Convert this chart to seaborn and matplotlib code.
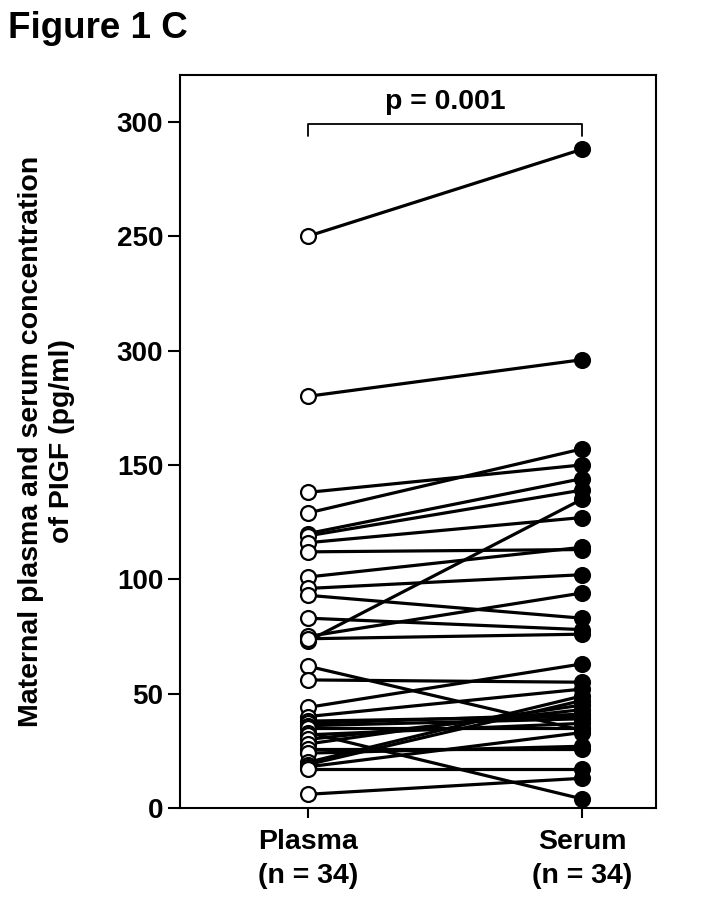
import matplotlib
matplotlib.use("Agg")
import matplotlib.pyplot as plt
import seaborn as sns
import pandas as pd
import numpy as np

# ---- data (pg/ml) ----
plasma = [250, 180, 138, 129, 120, 119, 116, 112, 101, 96, 93, 75, 73,
          83, 74, 62, 56, 44, 40, 38, 37, 36, 35, 33, 32, 30, 28, 26, 24,
          20, 19, 18, 17, 6]
serum = [288, 196, 150, 157, 144, 139, 127, 113, 114, 102, 83, 94, 135,
         78, 76, 34, 55, 63, 52, 40, 41, 39, 35, 4, 37, 43, 45, 26, 27,
         49, 47, 33, 17, 13]
groups = ["Plasma", "Serum"]
group_labels = ["Plasma\n(n = 34)", "Serum\n(n = 34)"]
ytick_values = [0, 50, 100, 150, 200, 250, 300]
ytick_labels = ["0", "50", "100", "150", "300", "250", "300"]
p_text = "p = 0.001"

n = len(plasma)
df = pd.DataFrame({
    "subject": list(range(n)) * 2,
    "group": ["Plasma"] * n + ["Serum"] * n,
    "pos": [0] * n + [1] * n,
    "value": plasma + serum,
})

sns.set_style("ticks")
plt.rcParams["font.family"] = ["Liberation Sans", "DejaVu Sans"]
plt.rcParams["font.weight"] = "bold"
for k in ["text.color", "axes.labelcolor", "xtick.color", "ytick.color",
          "axes.edgecolor"]:
    plt.rcParams[k] = "black"

fig = plt.figure(figsize=(7.18, 9.02), dpi=100)
ax = fig.add_axes([0.2507, 0.1042, 0.9136 - 0.2507, 0.9169 - 0.1042])

sns.lineplot(data=df, x="pos", y="value", units="subject", estimator=None,
             color="black", linewidth=2.3, ax=ax, legend=False, zorder=2)
sns.scatterplot(data=df[df.group == "Plasma"], x="pos", y="value", ax=ax,
                color="white", edgecolor="black", linewidth=1.6, s=115,
                zorder=3, legend=False)
sns.scatterplot(data=df[df.group == "Serum"], x="pos", y="value", ax=ax,
                color="black", edgecolor="black", linewidth=1.6, s=115,
                zorder=3, legend=False)

ax.set_xlim(-0.467, 1.270)
ax.set_ylim(0, 320.5)
ax.set_xticks([0, 1])
ax.set_xticklabels(group_labels, fontsize=20.5, fontweight="bold",
                   linespacing=1.4)
ax.set_yticks(ytick_values)
ax.set_yticklabels(ytick_labels, fontsize=20, fontweight="bold")
ax.tick_params(axis="y", length=8.6, width=1.5, pad=3.5, colors="black")
ax.tick_params(axis="x", length=7, width=1.5, pad=8, colors="black")
for sp in ax.spines.values():
    sp.set_linewidth(1.5)
    sp.set_visible(True)
    sp.set_color("black")
ax.set_xlabel("")
ax.set_ylabel("Maternal plasma and serum concentration\nof PIGF (pg/ml)",
              fontsize=20.5, fontweight="bold", labelpad=30, linespacing=1.25)

# significance bracket
ax.plot([0, 0, 1, 1], [294, 299, 299, 294], color="black", linewidth=1.3,
        clip_on=False, zorder=4)
ax.text(0.5, 303, p_text, ha="center", va="bottom", fontsize=20.5,
        fontweight="bold")

fig.text(0.011, 0.958, "Figure 1 C", fontsize=26.5, fontweight="bold",
         family=["Liberation Sans Narrow", "Liberation Sans", "DejaVu Sans"],
         ha="left", va="baseline")

fig.savefig("out.png", dpi=100)
